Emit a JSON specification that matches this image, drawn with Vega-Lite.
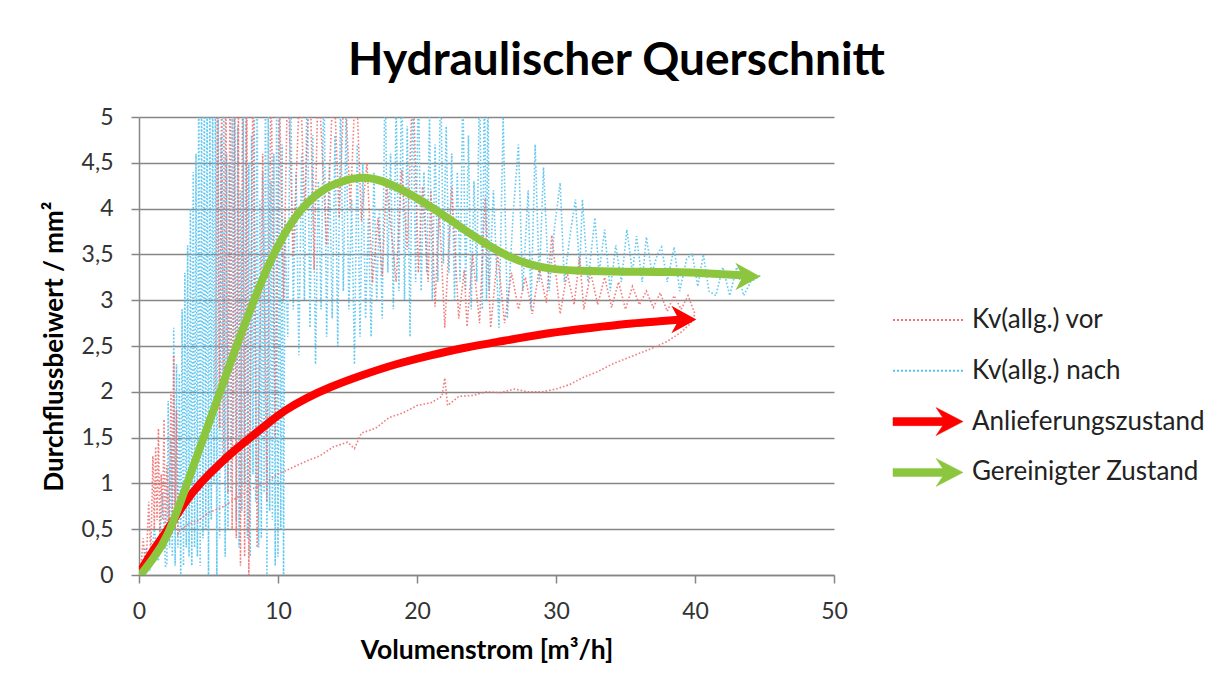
{
  "$schema": "https://vega.github.io/schema/vega-lite/v6.json",
  "width": 695,
  "height": 458,
  "autosize": {"type": "none"},
  "padding": {"left": 139, "top": 117, "right": 386, "bottom": 99},
  "background": "white",
  "config": {"view": {"stroke": null}, "font": "Lato"},
  "title": {"text": "Hydraulischer Querschnitt", "font": "Lato", "fontSize": 46, "fontWeight": "bold", "color": "#000000", "anchor": "middle", "frame": "group", "dx": 130, "dy": 62, "offset": 47, "baseline": "alphabetic"},
  "datasets": {
    "nach": [
      {"x":0.2,"y":0},{"x":0.5,"y":0.3},{"x":0.8,"y":0.05},{"x":1.1,"y":0.5},{"x":1.4,"y":0.15},{"x":1.7,"y":0.9},{"x":1.9,"y":0.1},
      {"x":2.0,"y":0.1},{"x":2.1,"y":1.9},{"x":2.2,"y":0.3},{"x":2.3,"y":1.5},{"x":2.4,"y":0.2},{"x":2.5,"y":2.7},{"x":2.6,"y":0.1},{"x":2.7,"y":2.3},{"x":2.8,"y":0.3},{"x":2.9,"y":2.2},{"x":3.0,"y":0.0},{"x":3.1,"y":2.9},{"x":3.2,"y":0.1},{"x":3.3,"y":3.3},{"x":3.4,"y":0.3},{"x":3.5,"y":3.6},{"x":3.6,"y":0.2},{"x":3.7,"y":4.0},{"x":3.8,"y":0.1},{"x":3.9,"y":4.4},{"x":4.0,"y":0.3},{"x":4.1,"y":4.6},{"x":4.2,"y":0.2},{"x":4.3,"y":5.5},{"x":4.4,"y":0.1},{"x":4.5,"y":5.5},{"x":4.6,"y":0.4},{"x":4.7,"y":5.5},{"x":4.8,"y":0.5},{"x":4.9,"y":5.5},{"x":5.0,"y":0},{"x":5.1,"y":5.2},{"x":5.2,"y":0.6},{"x":5.3,"y":5.5},{"x":5.4,"y":1.0},{"x":5.5,"y":5.5},{"x":5.6,"y":0},{"x":5.7,"y":5.5},{"x":5.8,"y":0.4},{"x":5.9,"y":4.8},{"x":6.0,"y":1.2},{"x":6.1,"y":5.5},{"x":6.2,"y":0.2},{"x":6.3,"y":4.6},{"x":6.4,"y":0.5},{"x":6.5,"y":4.5},{"x":6.6,"y":0.9},{"x":6.7,"y":5.1},{"x":6.8,"y":1.5},{"x":6.9,"y":5.5},{"x":7.0,"y":0.6},{"x":7.1,"y":4.9},{"x":7.2,"y":0.3},{"x":7.3,"y":4.2},{"x":7.4,"y":0.7},{"x":7.5,"y":5.3},{"x":7.6,"y":1.0},{"x":7.7,"y":5.5},{"x":7.8,"y":0.4},{"x":7.9,"y":4.5},{"x":8.0,"y":0.2},{"x":8.1,"y":4.8},{"x":8.2,"y":1.1},{"x":8.3,"y":5.0},{"x":8.4,"y":0.8},{"x":8.5,"y":5.5},{"x":8.6,"y":0.3},{"x":8.7,"y":4.1},{"x":8.8,"y":0.4},{"x":8.9,"y":4.4},{"x":9.0,"y":0.9},{"x":9.1,"y":5.5},{"x":9.2,"y":0},{"x":9.3,"y":5.2},{"x":9.4,"y":0.7},{"x":9.5,"y":4.3},{"x":9.6,"y":0.6},{"x":9.7,"y":4.6},{"x":9.8,"y":0.1},{"x":9.9,"y":5.0},{"x":10.0,"y":0.2},{"x":10.1,"y":5.5},{"x":10.2,"y":0.5},{"x":10.3,"y":4.7},{"x":10.4,"y":0},{"x":10.5,"y":3.9},
      {"x":10.7,"y":2.6},{"x":10.9,"y":5.5},{"x":11.1,"y":2.9},{"x":11.3,"y":4.4},{"x":11.5,"y":2.4},{"x":11.7,"y":4.6},{"x":11.9,"y":3.0},{"x":12.1,"y":5.5},{"x":12.3,"y":2.7},{"x":12.5,"y":4.8},{"x":12.7,"y":2.3},{"x":12.9,"y":4.3},{"x":13.1,"y":2.9},{"x":13.3,"y":5.5},{"x":13.5,"y":2.6},{"x":13.7,"y":4.5},{"x":13.9,"y":2.8},{"x":14.1,"y":4.8},{"x":14.3,"y":2.5},{"x":14.5,"y":5.2},{"x":14.7,"y":3.1},{"x":14.9,"y":5.0},{"x":15.1,"y":2.9},{"x":15.3,"y":4.1},{"x":15.5,"y":2.3},{"x":15.7,"y":4.7},{"x":15.9,"y":2.6},{"x":16.1,"y":4.5},{"x":16.3,"y":2.8},{"x":16.5,"y":3.9},{"x":16.7,"y":2.6},{"x":16.9,"y":4.4},{"x":17.1,"y":3.0},{"x":17.3,"y":4.0},{"x":17.5,"y":2.8},{"x":17.7,"y":5.5},{"x":17.9,"y":3.3},{"x":18.1,"y":4.6},{"x":18.3,"y":2.9},{"x":18.5,"y":5.2},{"x":18.7,"y":3.1},{"x":18.9,"y":5.5},{"x":19.1,"y":3.0},{"x":19.3,"y":4.9},{"x":19.5,"y":2.6},{"x":19.7,"y":5.5},{"x":19.9,"y":3.2},{"x":20.1,"y":5.5},{"x":20.3,"y":3.1},{"x":20.5,"y":4.4},{"x":20.7,"y":3.3},{"x":20.9,"y":5.0},{"x":21.1,"y":3.0},{"x":21.3,"y":4.7},{"x":21.5,"y":3.2},{"x":21.7,"y":5.5},{"x":21.9,"y":3.4},{"x":22.1,"y":4.9},{"x":22.3,"y":3.3},{"x":22.5,"y":4.6},{"x":22.7,"y":3.0},{"x":22.9,"y":4.4},{"x":23.1,"y":3.2},{"x":23.3,"y":5.3},{"x":23.5,"y":3.1},{"x":23.7,"y":4.8},{"x":23.9,"y":2.9},{"x":24.1,"y":4.3},{"x":24.3,"y":3.2},{"x":24.5,"y":5.5},{"x":24.7,"y":2.9},{"x":24.85,"y":5.5},{"x":25.0,"y":3.0},{"x":25.1,"y":5.5},{"x":25.2,"y":3.1},
      {"x":25.5,"y":4.2},{"x":25.9,"y":2.7},{"x":26.2,"y":5.0},{"x":26.5,"y":2.8},{"x":26.9,"y":3.9},{"x":27.3,"y":4.7},{"x":27.6,"y":3.1},{"x":28.0,"y":4.2},{"x":28.2,"y":2.9},{"x":28.5,"y":4.7},{"x":28.8,"y":3.2},{"x":29.1,"y":4.45},{"x":29.5,"y":3.1},{"x":29.9,"y":3.8},{"x":30.3,"y":4.28},{"x":30.6,"y":3.2},{"x":31.0,"y":3.7},{"x":31.4,"y":4.1},{"x":31.7,"y":3.3},{"x":31.9,"y":4.1},{"x":32.3,"y":3.2},{"x":32.8,"y":3.9},{"x":33.1,"y":3.3},{"x":33.5,"y":3.77},{"x":33.9,"y":3.1},{"x":34.3,"y":3.6},{"x":34.7,"y":3.2},{"x":35.1,"y":3.77},{"x":35.5,"y":3.3},{"x":35.8,"y":3.7},{"x":36.2,"y":3.2},{"x":36.5,"y":3.69},{"x":36.9,"y":3.3},{"x":37.3,"y":3.5},{"x":37.6,"y":3.58},{"x":38.0,"y":3.2},{"x":38.5,"y":3.58},{"x":38.9,"y":3.1},{"x":39.4,"y":3.45},{"x":39.8,"y":3.51},{"x":40.2,"y":3.15},{"x":40.6,"y":3.5},{"x":41.0,"y":3.1},{"x":41.5,"y":3.05},{"x":42.0,"y":3.36},{"x":42.5,"y":3.05},{"x":43.0,"y":3.36},{"x":43.5,"y":3.05},{"x":44.0,"y":3.2},{"x":44.7,"y":3.27}
    ],
    "vor": [
      {"x":0.1,"y":0},{"x":0.3,"y":0.4},{"x":0.5,"y":0.05},{"x":0.7,"y":0.8},{"x":0.85,"y":0.2},{"x":1.0,"y":1.3},{"x":1.1,"y":0.5},{"x":1.2,"y":1.4},{"x":1.3,"y":0.6},{"x":1.4,"y":1.6},{"x":1.5,"y":0.4},{"x":1.6,"y":1.1},{"x":1.7,"y":0.6},{"x":1.8,"y":1.7},{"x":1.9,"y":0.3},{"x":2.0,"y":1.2},{"x":2.15,"y":0.5},{"x":2.3,"y":2.0},{"x":2.4,"y":0.6},{"x":2.5,"y":2.4},{"x":2.6,"y":0.5},{"x":2.7,"y":1.8},{"x":2.8,"y":0.45},{"x":3.0,"y":0.5},
      {"x":3.5,"y":0.55},{"x":4.3,"y":0.6},{"x":5.0,"y":0.68},{"x":6.0,"y":0.74},{"x":7.0,"y":0.84},{"x":8.0,"y":0.93},{"x":9.0,"y":1.0},{"x":10.0,"y":1.1},{"x":11.0,"y":1.17},{"x":12.0,"y":1.24},{"x":13.0,"y":1.3},{"x":14.0,"y":1.4},{"x":15.0,"y":1.45},{"x":15.5,"y":1.38},{"x":16.0,"y":1.55},{"x":17.0,"y":1.6},{"x":18.0,"y":1.72},{"x":19.0,"y":1.77},{"x":20.0,"y":1.85},{"x":21.0,"y":1.88},{"x":21.8,"y":1.95},{"x":22.0,"y":2.15},{"x":22.2,"y":1.85},{"x":23.0,"y":1.95},{"x":24.0,"y":1.96},{"x":25.0,"y":2.0},{"x":26.0,"y":1.99},{"x":27.0,"y":2.03},{"x":28.0,"y":2.0},{"x":29.0,"y":2.0},{"x":30.0,"y":2.03},{"x":31.0,"y":2.08},{"x":32.0,"y":2.16},{"x":33.0,"y":2.22},{"x":34.0,"y":2.3},{"x":35.0,"y":2.36},{"x":36.0,"y":2.42},{"x":37.0,"y":2.48},{"x":38.0,"y":2.55},{"x":39.0,"y":2.65},{"x":39.7,"y":2.75},{"x":40.0,"y":2.85},
      {"x":39.5,"y":3.05},{"x":39.0,"y":2.9},{"x":38.5,"y":3.05},{"x":38.0,"y":2.88},{"x":37.5,"y":3.08},{"x":37.0,"y":2.92},{"x":36.5,"y":3.1},{"x":36.0,"y":2.95},{"x":35.5,"y":3.15},{"x":35.0,"y":2.9},{"x":34.5,"y":3.2},{"x":34.0,"y":2.92},{"x":33.5,"y":3.25},{"x":33.0,"y":2.95},{"x":32.5,"y":3.3},{"x":32.0,"y":2.9},{"x":31.7,"y":3.47},{"x":31.3,"y":2.95},{"x":30.8,"y":3.3},{"x":30.3,"y":2.85},{"x":29.7,"y":3.71},{"x":29.3,"y":2.97},{"x":28.8,"y":3.35},{"x":28.3,"y":2.85},{"x":27.8,"y":3.25},{"x":27.3,"y":2.9},{"x":26.8,"y":3.3},{"x":26.3,"y":2.75},{"x":25.8,"y":3.5},{"x":25.3,"y":2.7},{"x":24.9,"y":4.13},{"x":24.5,"y":2.75},{"x":24.0,"y":3.5},{"x":23.6,"y":2.71},{"x":23.4,"y":3.33},{"x":23.0,"y":2.8},{"x":22.5,"y":4.24},{"x":22.0,"y":2.7},{"x":21.6,"y":4.0},{"x":21.3,"y":2.93},{"x":21.0,"y":4.2},{"x":20.8,"y":3.2},{"x":20.4,"y":4.24},{"x":20.1,"y":3.3},{"x":19.7,"y":5.5},{"x":19.3,"y":3.55},{"x":18.9,"y":4.42},{"x":18.5,"y":3.2},{"x":17.8,"y":4.3},{"x":17.5,"y":3.26},{"x":17.2,"y":3.9},{"x":16.8,"y":3.19},{"x":16.4,"y":4.5},{"x":16.0,"y":3.87},{"x":15.6,"y":5.5},{"x":15.2,"y":3.98},{"x":14.8,"y":5.5},{"x":14.4,"y":3.9},{"x":14.0,"y":5.5},{"x":13.5,"y":3.6},{"x":12.9,"y":5.5},{"x":12.6,"y":3.33},{"x":12.3,"y":5.5},{"x":11.9,"y":3.98},{"x":11.6,"y":5.5},{"x":11.1,"y":3.47},{"x":10.7,"y":5.5},{"x":10.4,"y":3.0},{"x":10.1,"y":5.3},{"x":9.8,"y":1.5},{"x":9.5,"y":5.5},{"x":9.2,"y":0.8},{"x":8.9,"y":4.6},{"x":8.5,"y":0.3},{"x":8.2,"y":5.5},{"x":7.9,"y":0},{"x":7.75,"y":5.5},{"x":7.6,"y":0.2},{"x":7.45,"y":5.5},{"x":7.3,"y":0.1},{"x":7.15,"y":5.2},{"x":7.0,"y":0.4},{"x":6.85,"y":5.0},{"x":6.7,"y":0.5},{"x":6.55,"y":5.5},{"x":6.4,"y":0.9},{"x":6.25,"y":5.5},{"x":6.1,"y":1.2},{"x":5.95,"y":5.5},{"x":5.8,"y":1.6},{"x":5.65,"y":5.5},{"x":5.5,"y":2.0}
    ],
    "rot": [
      {"x":0.1,"y":0.04},{"x":1.0,"y":0.27},{"x":2.1,"y":0.5},{"x":3.3,"y":0.8},{"x":4.5,"y":1.02},{"x":5.7,"y":1.2},{"x":7.0,"y":1.38},{"x":8.1,"y":1.51},{"x":9.3,"y":1.66},{"x":10.5,"y":1.8},{"x":12.0,"y":1.93},{"x":13.7,"y":2.05},{"x":16.0,"y":2.18},{"x":18.6,"y":2.31},{"x":21.0,"y":2.4},{"x":23.3,"y":2.48},{"x":26.0,"y":2.55},{"x":29.0,"y":2.63},{"x":31.5,"y":2.68},{"x":33.2,"y":2.71},{"x":35.5,"y":2.75},{"x":37.5,"y":2.77},{"x":39.1,"y":2.79}
    ],
    "gruen": [
      {"x":0.1,"y":0.0},{"x":1.0,"y":0.17},{"x":2.1,"y":0.42},{"x":3.3,"y":0.93},{"x":4.5,"y":1.44},{"x":5.7,"y":1.94},{"x":6.9,"y":2.46},{"x":8.1,"y":2.93},{"x":9.3,"y":3.4},{"x":11.0,"y":3.88},{"x":12.3,"y":4.1},{"x":13.7,"y":4.26},{"x":15.9,"y":4.36},{"x":17.5,"y":4.31},{"x":19.0,"y":4.2},{"x":20.5,"y":4.07},{"x":22.0,"y":3.92},{"x":23.5,"y":3.76},{"x":25.0,"y":3.61},{"x":26.5,"y":3.48},{"x":28.0,"y":3.39},{"x":29.6,"y":3.34},{"x":31.5,"y":3.32},{"x":35.0,"y":3.31},{"x":38.0,"y":3.31},{"x":41.6,"y":3.29},{"x":43.7,"y":3.27}
    ]
  },
  "encoding": {
    "x": {"field": "x", "type": "quantitative", "scale": {"domain": [0, 50], "nice": false, "zero": false},
      "axis": {"title": "Volumenstrom [m³/h]", "values": [0, 10, 20, 30, 40, 50], "grid": false, "domainColor": "#868686", "domainWidth": 1.5, "tickColor": "#868686", "tickWidth": 1.5, "tickSize": 8, "labelFont": "Lato", "labelFontSize": 23, "labelColor": "#333333", "labelPadding": 17, "labelFlush": false, "titleFont": "Lato", "titleFontSize": 26.5, "titleFontWeight": "bold", "titleColor": "#000000", "titlePadding": 14}},
    "y": {"field": "y", "type": "quantitative", "scale": {"domain": [0, 5], "nice": false},
      "axis": {"title": "Durchflussbeiwert / mm²", "values": [0, 0.5, 1, 1.5, 2, 2.5, 3, 3.5, 4, 4.5, 5], "labelExpr": "replace(format(datum.value, '~g'), '.', ',')", "grid": true, "gridColor": "#868686", "gridWidth": 1.5, "domainColor": "#868686", "domainWidth": 1.5, "tickColor": "#868686", "tickWidth": 1.5, "tickSize": 8, "labelFont": "Lato", "labelFontSize": 23, "labelColor": "#333333", "labelPadding": 18, "titleFont": "Lato", "titleFontSize": 26, "titleFontWeight": "bold", "titleColor": "#000000", "titlePadding": 14}}
  },
  "layer": [
    {
      "data": {"name": "nach"},
      "transform": [{"window": [{"op": "row_number", "as": "i"}]}],
      "mark": {"type": "line", "strokeDash": [1.6, 2], "strokeWidth": 1.6, "clip": true, "opacity": 0.9},
      "encoding": {
        "order": {"field": "i", "type": "quantitative"},
        "color": {"datum": "Kv(allg.) nach", "type": "nominal",
          "scale": {"domain": ["Kv(allg.) vor", "Kv(allg.) nach", "Anlieferungszustand", "Gereinigter Zustand"], "range": ["#f07070", "#52c3ef", "#ff0000", "#8cc63f"]},
          "legend": {"orient": "none", "legendX": 776, "legendY": 190, "title": null, "padding": 0, "symbolSize": 4900, "labelFont": "Lato", "labelFontSize": 26, "labelColor": "#222222", "labelOffset": 31, "labelLimit": 400, "rowPadding": 20.8, "symbolStrokeWidth": 2, "symbolOpacity": 1,
            "encode": {"symbols": {"update": {
              "shape": {"signal": "datum.index < 2 ? 'M-1,-0.3L-1,-0.3M-1,0L1,0M-1,0.3L-1,0.3' : 'M-1,-0.115L0.42,-0.115L0.23,-0.4L1,0L0.23,0.4L0.42,0.115L-1,0.115Z'"},
              "fill": {"signal": "datum.index < 2 ? 'transparent' : scale('color', datum.value)"},
              "stroke": {"signal": "scale('color', datum.value)"},
              "strokeWidth": {"signal": "datum.index < 2 ? 2 : 0.5"},
              "strokeDash": {"signal": "datum.index < 2 ? [2, 2] : []"},
              "opacity": {"value": 1}
            }}}}}
      }
    },
    {
      "data": {"name": "vor"},
      "transform": [{"window": [{"op": "row_number", "as": "i"}]}],
      "mark": {"type": "line", "strokeDash": [1.6, 2], "strokeWidth": 1.6, "clip": true, "opacity": 0.9},
      "encoding": {
        "order": {"field": "i", "type": "quantitative"},
        "color": {"datum": "Kv(allg.) vor", "type": "nominal"}
      }
    },
    {
      "data": {"name": "rot"},
      "mark": {"type": "line", "strokeWidth": 8, "interpolate": "basis", "strokeCap": "round", "clip": true},
      "encoding": {"color": {"datum": "Anlieferungszustand", "type": "nominal"}}
    },
    {
      "data": {"values": [{"x": 40.1, "y": 2.79}]},
      "mark": {"type": "point", "shape": "M0,0L-1,-0.55L-0.7,0L-1,0.55Z", "filled": true, "size": 2500, "opacity": 1, "strokeWidth": 0, "angle": 0},
      "encoding": {"color": {"datum": "Anlieferungszustand", "type": "nominal"}}
    },
    {
      "data": {"name": "gruen"},
      "mark": {"type": "line", "strokeWidth": 8, "interpolate": "basis", "strokeCap": "round", "clip": true},
      "encoding": {"color": {"datum": "Gereinigter Zustand", "type": "nominal"}}
    },
    {
      "data": {"values": [{"x": 44.7, "y": 3.26}]},
      "mark": {"type": "point", "shape": "M0,0L-1,-0.55L-0.7,0L-1,0.55Z", "filled": true, "size": 2500, "opacity": 1, "strokeWidth": 0, "angle": 0},
      "encoding": {"color": {"datum": "Gereinigter Zustand", "type": "nominal"}}
    }
  ]
}
